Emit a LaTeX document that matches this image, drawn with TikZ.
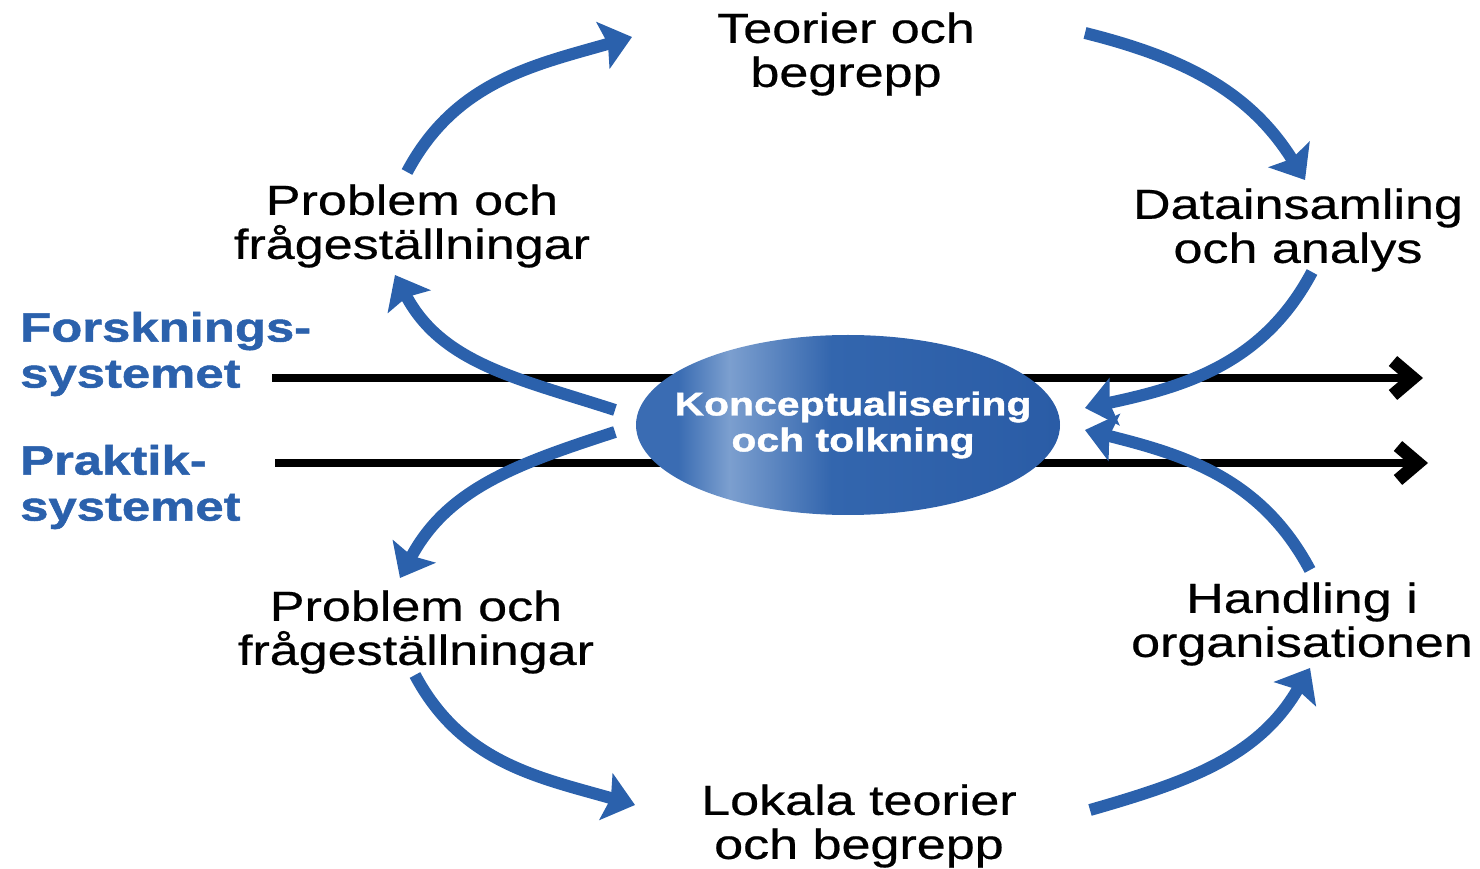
\documentclass[tikz,border=0pt]{standalone}
\usepackage{fontspec}
\setmainfont[FakeStretch=1.24, UprightFeatures={FakeBold=0.5}]{Liberation Sans}
\newfontfamily\heavyfont[FakeStretch=1.24, BoldFeatures={FakeBold=1.2}]{Liberation Sans}
\usetikzlibrary{arrows.meta,calc,shapes.geometric}
\definecolor{cblue}{HTML}{2B61AC}
\definecolor{elA}{HTML}{3A6CB3}
\definecolor{elB}{HTML}{7C9FCF}
\definecolor{elC}{HTML}{3366AE}
\definecolor{elD}{HTML}{2A5CA6}
\pgfdeclarehorizontalshading{elshade}{100bp}{color(0bp)=(elA); color(25bp)=(elA); color(30bp)=(elA); color(36bp)=(elB); color(48bp)=(elC); color(75bp)=(elD); color(100bp)=(elD)}
\tikzset{
  lbl/.style={align=center, inner sep=0pt, font=\fontsize{42}{44}\selectfont},
  sysl/.style={align=left, anchor=west, inner sep=0pt, text=cblue, font=\fontsize{41}{46}\selectfont\heavyfont\bfseries},
  barrow/.style={draw=cblue, line width=12pt, -{Stealth[length=30pt,width=48pt,inset=5pt]}},
  karrow/.style={draw=black, line width=8pt, -{Straight Barb[length=20pt,width=34pt,line width=13pt]}}
}
\begin{document}
\begin{tikzpicture}[x=1pt,y=1pt]
\useasboundingbox (0,0) rectangle (1480,868);
% system lines
\coordinate (f0) at (272,490);
\coordinate (f1) at (1423,490);
\coordinate (g0) at (275,405);
\coordinate (g1) at (1428,405);
\draw[karrow] (f0) -- (f1);
\draw[karrow] (g0) -- (g1);
% central ellipse
\node[ellipse, minimum width=424pt, minimum height=180pt, inner sep=0pt, shading=elshade] (k) at (848,443) {};
\node[align=center, inner sep=0pt, text=white, font=\fontsize{33}{36}\selectfont\heavyfont\bfseries] (kt) at (853,443) {Konceptualisering\\och tolkning};
% labels
\node[lbl] (t) at (846,814) {Teorier och\\begrepp};
\node[lbl] (p1) at (412,642) {Problem och\\frågeställningar};
\node[lbl] (d) at (1298,638) {Datainsamling\\och analys};
\node[lbl] (p2) at (416,236) {Problem och\\frågeställningar};
\node[lbl] (h) at (1302,244) {Handling i\\organisationen};
\node[lbl] (l) at (859,42) {Lokala teorier\\och begrepp};
\node[sysl] (fs) at (20,514) {Forsknings-\\systemet};
\node[sysl] (ps) at (20,381) {Praktik-\\systemet};
% blue cycle arrows
\draw[barrow] ($(p1)+(-5,54)$) to[out=62,in=196] ($(t)+(-214,17)$);
\draw[barrow] ($(t)+(239,21)$) to[out=-14,in=122] ($(d)+(7,50)$);
\draw[barrow] ($(d)+(14,-42)$) to[out=-118,in=12] ($(k)+(237,17)$);
\draw[barrow] ($(h)+(8,54)$) to[out=118,in=-14] ($(k)+(237,-5)$);
\draw[barrow] ($(k)+(-233,15)$) to[out=162,in=-62] ($(p1)+(-17,-49)$);
\draw[barrow] ($(k)+(-233,-7)$) to[out=198,in=62] ($(p2)+(-16,54)$);
\draw[barrow] ($(p2)+(-1,-43)$) to[out=-62,in=164] ($(l)+(-224,21)$);
\draw[barrow] ($(l)+(231,16)$) to[out=16,in=-120] ($(h)+(8,-44)$);
\end{tikzpicture}
\end{document}
